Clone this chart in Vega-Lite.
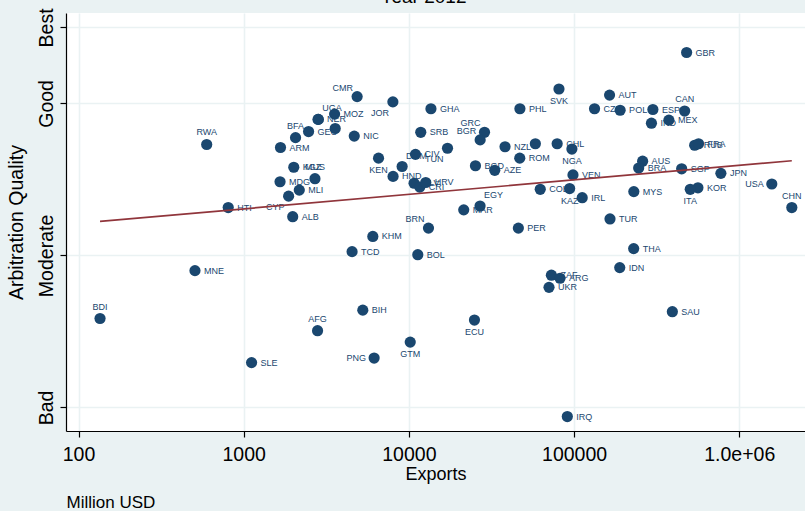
{
  "$schema": "https://vega.github.io/schema/vega-lite/v6.json",
  "width": 739,
  "height": 418,
  "autosize": {"type": "none"},
  "padding": {"left": 66, "top": 13, "right": 0, "bottom": 80},
  "background": "#eaf2f3",
  "title": {"text": "Year 2012", "font": "Liberation Sans", "fontSize": 19, "fontWeight": "normal", "color": "black", "frame": "group", "anchor": "middle", "offset": 1, "dx": -12},
  "config": {
    "view": {"fill": "white", "stroke": null},
    "font": "Liberation Sans",
    "axis": {"labelFont": "Liberation Sans", "titleFont": "Liberation Sans", "titleFontWeight": "normal", "labelColor": "black", "titleColor": "black", "domainColor": "black", "tickColor": "black", "gridColor": "#eaf2f3", "gridWidth": 1.6, "domainWidth": 1.2, "tickWidth": 1.2}
  },
  "datasets": {
    "pts": [
      {"c": "GBR", "ex": 480000, "q": 5.67, "side": "right"},
      {"c": "SVK", "ex": 81000, "q": 5.19, "side": "bottom"},
      {"c": "AUT", "ex": 164000, "q": 5.11, "side": "right"},
      {"c": "PHL", "ex": 47000, "q": 4.93, "side": "right"},
      {"c": "CZE", "ex": 133000, "q": 4.93, "side": "right"},
      {"c": "POL", "ex": 190000, "q": 4.91, "side": "right"},
      {"c": "ESP", "ex": 300000, "q": 4.92, "side": "right"},
      {"c": "CAN", "ex": 467000, "q": 4.90, "side": "top"},
      {"c": "MEX", "ex": 375000, "q": 4.78, "side": "right"},
      {"c": "IND", "ex": 294000, "q": 4.74, "side": "right"},
      {"c": "RUS", "ex": 537000, "q": 4.45, "side": "right"},
      {"c": "FRA", "ex": 567000, "q": 4.47, "side": "right"},
      {"c": "CHL", "ex": 79000, "q": 4.47, "side": "right"},
      {"c": "NGA", "ex": 97000, "q": 4.40, "side": "bottom"},
      {"c": "NZL", "ex": 38200, "q": 4.43, "side": "right"},
      {"c": "PRT", "ex": 58300, "q": 4.47, "side": "none"},
      {"c": "GRC", "ex": 28700, "q": 4.62, "side": "topleft"},
      {"c": "BGR", "ex": 27000, "q": 4.52, "side": "topleft"},
      {"c": "SRB", "ex": 11800, "q": 4.62, "side": "right"},
      {"c": "GHA", "ex": 13600, "q": 4.93, "side": "right"},
      {"c": "JOR", "ex": 8000, "q": 5.02, "side": "bottomleft"},
      {"c": "CMR", "ex": 4860, "q": 5.09, "side": "topleft"},
      {"c": "UGA", "ex": 2830, "q": 4.79, "side": "topright"},
      {"c": "MOZ", "ex": 3550, "q": 4.86, "side": "right"},
      {"c": "NER", "ex": 2820, "q": 4.79, "side": "right"},
      {"c": "GEO", "ex": 2470, "q": 4.63, "side": "right"},
      {"c": "BFA", "ex": 2060, "q": 4.55, "side": "top"},
      {"c": "LAO", "ex": 3580, "q": 4.67, "side": "none"},
      {"c": "NIC", "ex": 4670, "q": 4.57, "side": "right"},
      {"c": "ARM", "ex": 1670, "q": 4.42, "side": "right"},
      {"c": "RWA", "ex": 597, "q": 4.46, "side": "top"},
      {"c": "KGZ", "ex": 2010, "q": 4.16, "side": "right"},
      {"c": "MUS", "ex": 2700, "q": 4.01, "side": "top"},
      {"c": "MDG", "ex": 1660, "q": 3.97, "side": "right"},
      {"c": "MLI", "ex": 2170, "q": 3.86, "side": "right"},
      {"c": "CYP", "ex": 1870, "q": 3.78, "side": "bottomleft"},
      {"c": "ALB", "ex": 1980, "q": 3.51, "side": "right"},
      {"c": "HTI", "ex": 806, "q": 3.63, "side": "right"},
      {"c": "MNE", "ex": 507, "q": 2.80, "side": "right"},
      {"c": "BDI", "ex": 135, "q": 2.17, "side": "top"},
      {"c": "SLE", "ex": 1116, "q": 1.59, "side": "right"},
      {"c": "AFG", "ex": 2800, "q": 2.01, "side": "top"},
      {"c": "BIH", "ex": 5260, "q": 2.28, "side": "right"},
      {"c": "PNG", "ex": 6160, "q": 1.65, "side": "left"},
      {"c": "GTM", "ex": 10190, "q": 1.86, "side": "bottom"},
      {"c": "TCD", "ex": 4530, "q": 3.05, "side": "right"},
      {"c": "KHM", "ex": 6050, "q": 3.25, "side": "right"},
      {"c": "BOL", "ex": 11320, "q": 3.01, "side": "right"},
      {"c": "BRN", "ex": 13140, "q": 3.36, "side": "topleft"},
      {"c": "ECU", "ex": 24940, "q": 2.15, "side": "bottom"},
      {"c": "PER", "ex": 46000, "q": 3.36, "side": "right"},
      {"c": "MAR", "ex": 21480, "q": 3.60, "side": "right"},
      {"c": "EGY", "ex": 26970, "q": 3.65, "side": "topright"},
      {"c": "KEN", "ex": 6550, "q": 4.28, "side": "bottom"},
      {"c": "DOM", "ex": 9100, "q": 4.17, "side": "topright"},
      {"c": "HND", "ex": 8020, "q": 4.04, "side": "right"},
      {"c": "CIV", "ex": 10960, "q": 4.33, "side": "right"},
      {"c": "TUN", "ex": 17130, "q": 4.41, "side": "bottomleft"},
      {"c": "SLV", "ex": 10750, "q": 3.95, "side": "right"},
      {"c": "CRI", "ex": 11640, "q": 3.90, "side": "right"},
      {"c": "HRV", "ex": 12650, "q": 3.96, "side": "right"},
      {"c": "BGD", "ex": 25290, "q": 4.18, "side": "right"},
      {"c": "AZE", "ex": 33100, "q": 4.12, "side": "right"},
      {"c": "ROM", "ex": 46900, "q": 4.28, "side": "right"},
      {"c": "COL", "ex": 62400, "q": 3.87, "side": "right"},
      {"c": "KAZ", "ex": 94000, "q": 3.88, "side": "bottom"},
      {"c": "VEN", "ex": 98500, "q": 4.06, "side": "right"},
      {"c": "IRL", "ex": 112000, "q": 3.76, "side": "right"},
      {"c": "AUS", "ex": 260000, "q": 4.24, "side": "right"},
      {"c": "BRA", "ex": 246000, "q": 4.15, "side": "right"},
      {"c": "SGP", "ex": 448000, "q": 4.14, "side": "right"},
      {"c": "JPN", "ex": 774000, "q": 4.08, "side": "right"},
      {"c": "USA", "ex": 1574000, "q": 3.94, "side": "left"},
      {"c": "CHN", "ex": 2080000, "q": 3.63, "side": "top"},
      {"c": "KOR", "ex": 562000, "q": 3.89, "side": "right"},
      {"c": "ITA", "ex": 505000, "q": 3.87, "side": "bottom"},
      {"c": "MYS", "ex": 230000, "q": 3.84, "side": "right"},
      {"c": "TUR", "ex": 165000, "q": 3.48, "side": "right"},
      {"c": "THA", "ex": 229500, "q": 3.09, "side": "right"},
      {"c": "IDN", "ex": 189000, "q": 2.84, "side": "right"},
      {"c": "SAU", "ex": 393500, "q": 2.26, "side": "right"},
      {"c": "IRQ", "ex": 91000, "q": 0.88, "side": "right"},
      {"c": "ZAF", "ex": 72900, "q": 2.74, "side": "right"},
      {"c": "ARG", "ex": 82200, "q": 2.70, "side": "right"},
      {"c": "UKR", "ex": 70500, "q": 2.58, "side": "right"}
    ],
    "fit": [
      {"ex": 135, "q": 3.447},
      {"ex": 2080000, "q": 4.246}
    ]
  },
  "encoding": {
    "y": {
      "field": "q", "type": "quantitative",
      "scale": {"domain": [0.69, 6.19], "nice": false, "zero": false},
      "axis": {
        "values": [1, 3, 5, 6],
        "labelExpr": "datum.value == 1 ? 'Bad' : datum.value == 3 ? 'Moderate' : datum.value == 5 ? 'Good' : 'Best'",
        "labelAngle": -90, "labelAlign": "center", "labelBaseline": "bottom",
        "labelFontSize": 19.5, "labelPadding": 4, "tickSize": 6,
        "title": "Arbitration Quality", "titleFontSize": 19.5, "titlePadding": 10,
        "grid": true
      }
    }
  },
  "layer": [
    {
      "data": {"name": "pts"},
      "transform": [{"filter": "datum.side == 'right'"}],
      "mark": {"type": "text", "align": "left", "baseline": "middle", "dx": 9, "fontSize": 9, "color": "#1a476f"},
      "encoding": {"x": {"field": "ex", "type": "quantitative", "scale": {"type": "log", "domain": [84, 2500000], "nice": false}, "axis": null}, "text": {"field": "c"}}
    },
    {
      "data": {"name": "pts"},
      "transform": [{"filter": "datum.side == 'left'"}],
      "mark": {"type": "text", "align": "right", "baseline": "middle", "dx": -8, "fontSize": 9, "color": "#1a476f"},
      "encoding": {"x": {"field": "ex", "type": "quantitative", "scale": {"type": "log", "domain": [84, 2500000], "nice": false}, "axis": null}, "text": {"field": "c"}}
    },
    {
      "data": {"name": "pts"},
      "transform": [{"filter": "datum.side == 'top'"}],
      "mark": {"type": "text", "align": "center", "baseline": "middle", "dy": -12, "fontSize": 9, "color": "#1a476f"},
      "encoding": {"x": {"field": "ex", "type": "quantitative", "scale": {"type": "log", "domain": [84, 2500000], "nice": false}, "axis": null}, "text": {"field": "c"}}
    },
    {
      "data": {"name": "pts"},
      "transform": [{"filter": "datum.side == 'bottom'"}],
      "mark": {"type": "text", "align": "center", "baseline": "middle", "dy": 12, "fontSize": 9, "color": "#1a476f"},
      "encoding": {"x": {"field": "ex", "type": "quantitative", "scale": {"type": "log", "domain": [84, 2500000], "nice": false}, "axis": null}, "text": {"field": "c"}}
    },
    {
      "data": {"name": "pts"},
      "transform": [{"filter": "datum.side == 'topleft'"}],
      "mark": {"type": "text", "align": "right", "baseline": "middle", "dx": -4, "dy": -9, "fontSize": 9, "color": "#1a476f"},
      "encoding": {"x": {"field": "ex", "type": "quantitative", "scale": {"type": "log", "domain": [84, 2500000], "nice": false}, "axis": null}, "text": {"field": "c"}}
    },
    {
      "data": {"name": "pts"},
      "transform": [{"filter": "datum.side == 'bottomleft'"}],
      "mark": {"type": "text", "align": "right", "baseline": "middle", "dx": -4, "dy": 11, "fontSize": 9, "color": "#1a476f"},
      "encoding": {"x": {"field": "ex", "type": "quantitative", "scale": {"type": "log", "domain": [84, 2500000], "nice": false}, "axis": null}, "text": {"field": "c"}}
    },
    {
      "data": {"name": "pts"},
      "transform": [{"filter": "datum.side == 'topright'"}],
      "mark": {"type": "text", "align": "left", "baseline": "middle", "dx": 4, "dy": -11, "fontSize": 9, "color": "#1a476f"},
      "encoding": {"x": {"field": "ex", "type": "quantitative", "scale": {"type": "log", "domain": [84, 2500000], "nice": false}, "axis": null}, "text": {"field": "c"}}
    },
    {
      "data": {"name": "pts"},
      "mark": {"type": "circle", "size": 125, "color": "#1a476f", "opacity": 1},
      "encoding": {
        "x": {
          "field": "ex", "type": "quantitative",
          "scale": {"type": "log", "domain": [84, 2500000], "nice": false},
          "axis": {
            "orient": "bottom",
            "values": [100, 1000, 10000, 100000, 1000000],
            "labelExpr": "datum.value >= 1000000 ? '1.0e+06' : format(datum.value, 'd')",
            "labelFontSize": 19.5, "labelPadding": 8, "tickSize": 6, "labelFlush": false, "labelOverlap": false,
            "title": "Exports", "titleFontSize": 18, "titlePadding": 2,
            "grid": true
          }
        }
      }
    },
    {
      "data": {"name": "fit"},
      "mark": {"type": "line", "color": "#90353b", "strokeWidth": 1.7},
      "encoding": {
        "x": {
          "field": "ex", "type": "quantitative",
          "scale": {"type": "log", "domain": [84, 2500000], "nice": false},
          "axis": {
            "orient": "bottom", "labels": false, "ticks": false, "domain": false, "grid": false,
            "title": "Million USD", "titleFontSize": 17, "titleAnchor": "start", "titleAlign": "left", "titlePadding": 63
          }
        }
      }
    }
  ],
  "resolve": {"axis": {"x": "independent"}}
}
